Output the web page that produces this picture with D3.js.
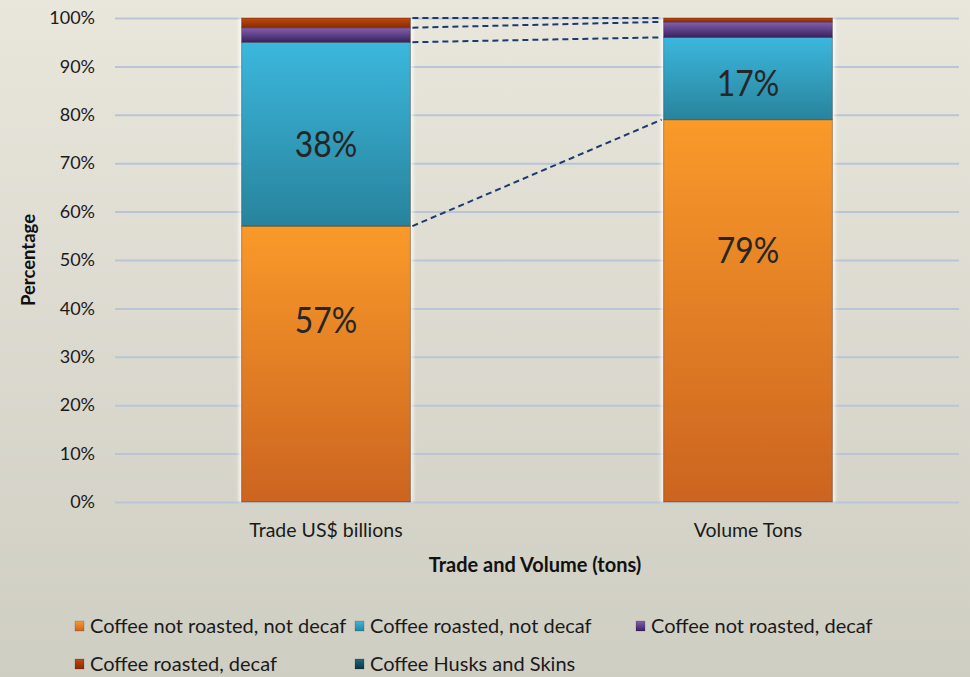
<!DOCTYPE html>
<html>
<head>
<meta charset="utf-8">
<script src="https://cdn.jsdelivr.net/npm/d3@7"></script>
<style>
  html, body { margin: 0; padding: 0; }
  body { width: 970px; height: 677px; overflow: hidden; }
  svg { display: block; font-family: Lato, "Open Sans", sans-serif; }
</style>
</head>
<body>
<svg id="chart" width="970" height="677"></svg>
<script>
// Coffee trade vs. volume shares (percent of total)
const categories = ["Trade US$ billions", "Volume Tons"];
const seriesNames = [
  "Coffee not roasted, not decaf",
  "Coffee roasted, not decaf",
  "Coffee not roasted, decaf",
  "Coffee roasted, decaf",
  "Coffee Husks and Skins"
];
const notRoastedNotDecaf = [57, 79];
const roastedNotDecaf = [38, 17];
const notRoastedDecaf = [3, 3.2];
const roastedDecaf = [2, 0.8];
const husksAndSkins = [0, 0];
const yTicks = [0, 10, 20, 30, 40, 50, 60, 70, 80, 90, 100];

const seriesValues = [notRoastedNotDecaf, roastedNotDecaf, notRoastedDecaf, roastedDecaf, husksAndSkins];

// colour ramps (top, bottom) per series
const ramps = [
  ["#F99A2A", "#CC6420"],
  ["#3CB7DD", "#28839C"],
  ["#8560AE", "#3A2160"],
  ["#BF4A0C", "#8A2A05"],
  ["#1E6A7E", "#0B3440"]
];
// where the value label sits inside its segment (fraction from the bottom)
const labelFrac = [0.66, 0.45];

const rows = categories.map((c, i) => {
  const r = { category: c };
  seriesNames.forEach((s, j) => { r[s] = seriesValues[j][i]; });
  return r;
});

const svg = d3.select("#chart");
const W = 970, H = 677;
const plot = { left: 115, right: 959, top: 18, bottom: 502 };

// narrow a text element horizontally by a factor
function squeeze(sel, k) {
  sel.each(function () {
    const w = this.getComputedTextLength();
    d3.select(this).attr("textLength", w * k).attr("lengthAdjust", "spacingAndGlyphs");
  });
}

const defs = svg.append("defs");
const bg = defs.append("linearGradient").attr("id", "bg").attr("x1", 0).attr("y1", 0).attr("x2", 0).attr("y2", 1);
bg.append("stop").attr("offset", "0%").attr("stop-color", "#E9E6DC");
bg.append("stop").attr("offset", "100%").attr("stop-color", "#CFCEC3");
ramps.forEach((r, i) => {
  const g = defs.append("linearGradient").attr("id", "ramp" + i)
    .attr("x1", 0).attr("y1", 0).attr("x2", 0).attr("y2", 1);
  g.append("stop").attr("offset", "0%").attr("stop-color", r[0]);
  g.append("stop").attr("offset", "100%").attr("stop-color", r[1]);
});
const glow = defs.append("filter").attr("id", "glow").attr("x", "-10%").attr("y", "-5%").attr("width", "120%").attr("height", "110%");
glow.append("feGaussianBlur").attr("stdDeviation", 1.5);

svg.append("rect").attr("width", W).attr("height", H).attr("fill", "url(#bg)");

const x = d3.scaleBand().domain(categories)
  .range([plot.left, plot.right]).paddingInner(0.6).paddingOuter(0.3);
const y = d3.scaleLinear().domain([0, 100]).range([plot.bottom, plot.top]);

// gridlines + y tick labels
const yAxis = svg.append("g").attr("transform", `translate(${plot.left},0)`)
  .call(d3.axisLeft(y).tickValues(yTicks).tickFormat(d => d + "%")
    .tickSize(-(plot.right - plot.left)).tickPadding(20));
yAxis.select(".domain").remove();
yAxis.selectAll(".tick line").attr("stroke", "#B9C5D6").attr("stroke-width", 2);
yAxis.selectAll(".tick text").attr("fill", "#1a1a1a").attr("font-size", 18)
  .attr("font-family", "Lato, sans-serif");

const stack = d3.stack().keys(seriesNames);
const stacked = stack(rows);

// soft light halo behind each bar
svg.append("g").selectAll("rect").data(categories).join("rect")
  .attr("x", d => x(d) - 3).attr("width", x.bandwidth() + 6)
  .attr("y", y(100)).attr("height", y(0) - y(100))
  .attr("fill", "#ffffff").attr("opacity", 0.7).attr("filter", "url(#glow)");

const layers = svg.append("g").selectAll("g").data(stacked).join("g")
  .attr("fill", (d, i) => `url(#ramp${i})`);
layers.selectAll("rect").data(d => d.filter(p => p[1] - p[0] > 0)).join("rect")
  .attr("x", d => x(d.data.category))
  .attr("width", x.bandwidth())
  .attr("y", d => y(d[1]))
  .attr("height", d => y(d[0]) - y(d[1]))
  .attr("stroke", "rgba(40,20,10,0.35)").attr("stroke-width", 1);

// dashed connectors between matching segment boundaries
const cA = categories[0], cB = categories[1];
const boundaries = stacked.slice(0, 4).map(s => [s[0][1], s[1][1]]);
svg.append("g").selectAll("line").data(boundaries).join("line")
  .attr("x1", x(cA) + x.bandwidth() + 2).attr("x2", x(cB) - 2)
  .attr("y1", d => y(d[0])).attr("y2", d => y(d[1]))
  .attr("stroke", "#1C3A70").attr("stroke-width", 2).attr("stroke-dasharray", "6,4");

// value labels
const labelData = [];
stacked.slice(0, 2).forEach((s, i) => {
  s.forEach(p => {
    labelData.push({ v: p[1] - p[0], cat: p.data.category, yv: p[0] + (p[1] - p[0]) * labelFrac[i] });
  });
});
svg.append("g").selectAll("text").data(labelData).join("text")
  .attr("x", d => x(d.cat) + x.bandwidth() / 2)
  .attr("y", d => y(d.yv))
  .attr("dy", "0.36em")
  .attr("text-anchor", "middle")
  .attr("font-size", 37).attr("fill", "#262626")
  .text(d => d.v + "%")
  .call(squeeze, 0.86);

// x category labels
svg.append("g").selectAll("text").data(categories).join("text")
  .attr("x", d => x(d) + x.bandwidth() / 2).attr("y", 530).attr("dy", "0.36em")
  .attr("text-anchor", "middle").attr("font-size", 19.5).attr("fill", "#1a1a1a")
  .text(d => d);

// axis titles
svg.append("text").attr("x", (plot.left + plot.right) / 2 - 2).attr("y", 565).attr("dy", "0.36em")
  .attr("text-anchor", "middle").attr("font-size", 20).attr("font-weight", "bold").attr("fill", "#111")
  .text("Trade and Volume (tons)");
svg.append("text").attr("transform", `translate(28,${(plot.top + plot.bottom) / 2}) rotate(-90)`)
  .attr("dy", "0.36em").attr("text-anchor", "middle").attr("font-size", 18.5).attr("font-weight", "bold")
  .attr("fill", "#111").text("Percentage");

// legend
const legendPos = [[75, 626], [355, 626], [636, 626], [75, 664], [355, 664]];
const legend = svg.append("g").selectAll("g").data(seriesNames).join("g")
  .attr("transform", (d, i) => `translate(${legendPos[i][0]},${legendPos[i][1]})`);
legend.append("rect").attr("x", 0).attr("y", -5).attr("width", 9).attr("height", 10)
  .attr("fill", (d, i) => `url(#ramp${i})`).attr("stroke", "rgba(0,0,0,0.3)").attr("stroke-width", 0.5);
legend.append("text").attr("x", 15).attr("dy", "0.36em").attr("font-size", 20).attr("fill", "#1a1a1a")
  .text(d => d);
</script>
</body>
</html>
